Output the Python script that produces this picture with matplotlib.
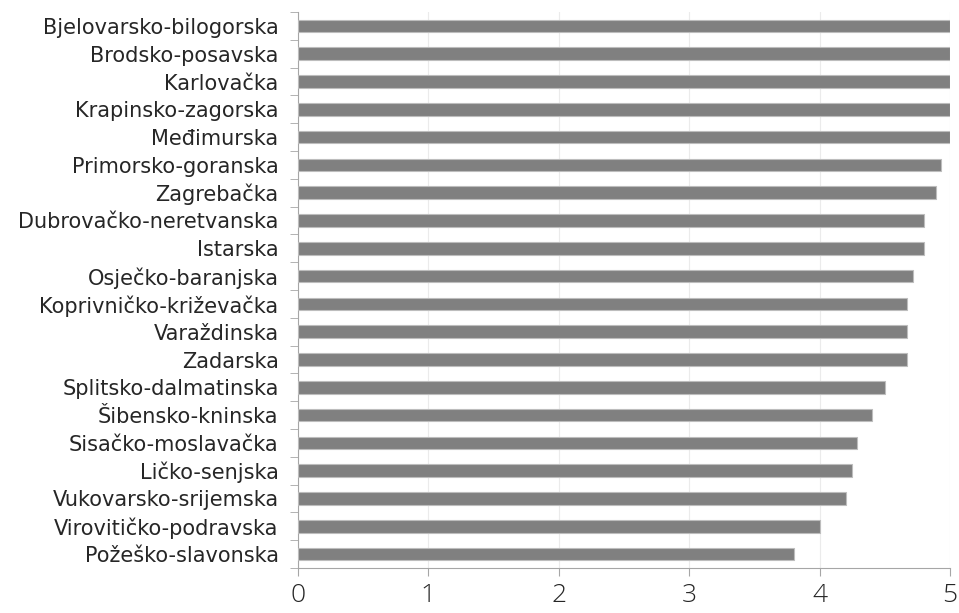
import matplotlib.pyplot as plt

counties = ["Bjelovarsko-bilogorska", "Brodsko-posavska", "Karlovačka", "Krapinsko-zagorska",
            "Međimurska", "Primorsko-goranska", "Zagrebačka", "Dubrovačko-neretvanska",
            "Istarska", "Osječko-baranjska", "Koprivničko-križevačka", "Varaždinska",
            "Zadarska", "Splitsko-dalmatinska", "Šibensko-kninska", "Sisačko-moslavačka",
            "Ličko-senjska", "Vukovarsko-srijemska", "Virovitičko-podravska", "Požeško-slavonska"]
scores = [5.0, 5.0, 5.0, 5.0, 5.0, 4.93, 4.89, 4.8, 4.8, 4.72, 4.67, 4.67, 4.67,
          4.5, 4.4, 4.29, 4.25, 4.2, 4.0, 3.8]
xticks = [0, 1, 2, 3, 4, 5]

plt.rcParams['font.family'] = ['DejaVu Sans']

fig = plt.figure(figsize=(9.59, 6.13), dpi=100)
ax = fig.add_axes([298 / 959, 45 / 613, 652 / 959, 556 / 613])

pos = list(range(len(counties)))[::-1]
ax.barh(pos, scores, height=0.45, color="#808080", edgecolor="#bdbdbd", linewidth=0.8, zorder=3)

ax.set_xlim(0, 5)
ax.set_ylim(-0.5, len(counties) - 0.5)
ax.set_xticks(xticks)
ax.set_xticklabels([str(t) for t in xticks], fontsize=19, color="#262626", fontweight="light",
                   family=["Open Sans"])
ax.set_yticks(pos)
ax.set_yticklabels(counties, fontsize=15, color="#262626")
ax.tick_params(axis="y", length=0, pad=14)
ax.set_yticks([p - 0.5 for p in range(len(counties) + 1)], minor=True)
ax.tick_params(axis="y", which="minor", length=6, color="#a6a6a6")
ax.tick_params(axis="x", length=6, color="#a6a6a6", pad=5)

ax.grid(axis="x", color="#ebebeb", linewidth=0.8, zorder=0)
for s in ["top", "right"]:
    ax.spines[s].set_visible(False)
for s in ["left", "bottom"]:
    ax.spines[s].set_color("#a6a6a6")

plt.savefig("out.png", dpi=100)
